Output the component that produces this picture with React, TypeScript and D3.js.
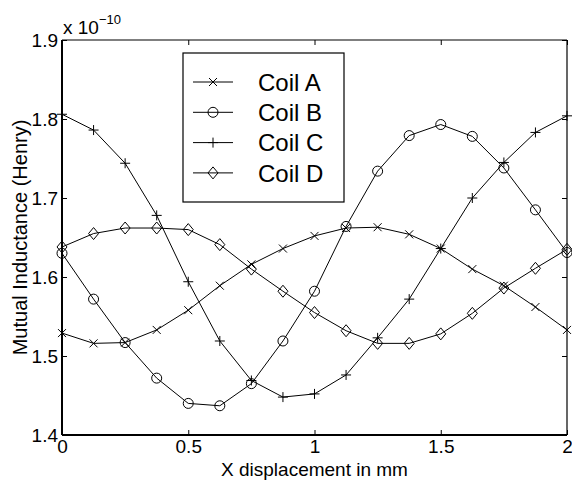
import React, { useEffect, useRef } from "react";
import * as d3 from "d3";

// x positions (mm)
const xValues = [0, 0.125, 0.25, 0.375, 0.5, 0.625, 0.75, 0.875, 1, 1.125, 1.25, 1.375, 1.5, 1.625, 1.75, 1.875, 2];

// mutual inductance, units of 1e-10 H
const coilA = [1.529, 1.516, 1.517, 1.533, 1.558, 1.589, 1.616, 1.636, 1.652, 1.662, 1.663, 1.654, 1.636, 1.61, 1.589, 1.562, 1.533];
const coilB = [1.63, 1.572, 1.517, 1.472, 1.44, 1.437, 1.465, 1.519, 1.582, 1.664, 1.734, 1.779, 1.793, 1.778, 1.738, 1.685, 1.631];
const coilC = [1.806, 1.786, 1.744, 1.678, 1.594, 1.519, 1.469, 1.448, 1.452, 1.476, 1.523, 1.572, 1.636, 1.7, 1.745, 1.783, 1.804];
const coilD = [1.638, 1.655, 1.662, 1.662, 1.66, 1.641, 1.61, 1.582, 1.555, 1.532, 1.516, 1.516, 1.528, 1.554, 1.586, 1.611, 1.635];

const seriesNames = ["Coil A", "Coil B", "Coil C", "Coil D"];
const seriesValues = [coilA, coilB, coilC, coilD];
const markerPaths = [
  "M-4,-4L4,4M-4,4L4,-4", // x
  "M-5,0A5,5 0 1,0 5,0A5,5 0 1,0 -5,0Z", // circle
  "M-5,0H5M0,-5V5", // plus
  "M0,-6L5,0L0,6L-5,0Z", // diamond
];

const xTicks = [0, 0.5, 1, 1.5, 2];
const yTicks = [1.4, 1.5, 1.6, 1.7, 1.8, 1.9];

const width = 572,
  height = 480,
  margin = { top: 40, right: 5, bottom: 45, left: 62 };

const font = "'Liberation Sans', Arial, Helvetica, sans-serif";

const App: React.FC = () => {
  const ref = useRef<SVGSVGElement | null>(null);

  useEffect(() => {
    const svg = d3.select(ref.current);
    svg.selectAll("*").remove();

    const x = d3
      .scaleLinear()
      .domain([0, 2])
      .range([margin.left, width - margin.right]);
    const y = d3
      .scaleLinear()
      .domain([1.4, 1.9])
      .range([height - margin.bottom, margin.top]);

    const x0 = x.range()[0],
      x1 = x.range()[1],
      y0 = y.range()[0],
      y1 = y.range()[1];

    // axes with inward ticks
    const styleAxis = (g) => {
      g.select(".domain").remove();
      g.selectAll(".tick line").attr("stroke", "#000");
      g.selectAll(".tick text")
        .attr("fill", "#000")
        .style("font-family", font)
        .style("font-size", "19px");
    };

    svg
      .append("g")
      .attr("transform", `translate(0,${y0})`)
      .call(d3.axisBottom(x).tickValues(xTicks).tickSize(-5).tickSizeOuter(0).tickPadding(5).tickFormat(d3.format("")))
      .call(styleAxis);
    svg
      .append("g")
      .attr("transform", `translate(0,${y1})`)
      .call(d3.axisTop(x).tickValues(xTicks).tickSize(-5).tickSizeOuter(0).tickFormat(() => ""))
      .call(styleAxis);
    svg
      .append("g")
      .attr("transform", `translate(${x0},0)`)
      .call(d3.axisLeft(y).tickValues(yTicks).tickSize(-5).tickSizeOuter(0).tickPadding(4).tickFormat(d3.format(".1f")))
      .call(styleAxis);
    svg
      .append("g")
      .attr("transform", `translate(${x1},0)`)
      .call(d3.axisRight(y).tickValues(yTicks).tickSize(-5).tickSizeOuter(0).tickFormat(() => ""))
      .call(styleAxis);

    // frame
    svg.append("line").attr("x1", x0).attr("x2", x1).attr("y1", y1).attr("y2", y1).attr("stroke", "#000").attr("stroke-width", 1.2);
    svg.append("line").attr("x1", x1).attr("x2", x1).attr("y1", y1).attr("y2", y0).attr("stroke", "#000").attr("stroke-width", 1.2);
    svg.append("line").attr("x1", x0).attr("x2", x1).attr("y1", y0).attr("y2", y0).attr("stroke", "#000").attr("stroke-width", 2);
    svg.append("line").attr("x1", x0).attr("x2", x0).attr("y1", y1).attr("y2", y0).attr("stroke", "#000").attr("stroke-width", 2);

    // series
    const line = d3
      .line<number>()
      .x((d, i) => x(xValues[i]))
      .y((d) => y(d));

    seriesValues.forEach((vals, s) => {
      svg
        .append("path")
        .datum(vals)
        .attr("fill", "none")
        .attr("stroke", "#000")
        .attr("stroke-width", 1)
        .attr("d", line);
      svg
        .append("g")
        .selectAll("path")
        .data(vals)
        .join("path")
        .attr("transform", (d, i) => `translate(${x(xValues[i])},${y(d)})`)
        .attr("d", markerPaths[s])
        .attr("fill", "none")
        .attr("stroke", "#000")
        .attr("stroke-width", 1);
    });

    // exponent label
    const exp = svg
      .append("text")
      .attr("x", 63)
      .attr("y", 34)
      .attr("fill", "#000")
      .style("font-family", font)
      .style("font-size", "19px");
    exp.append("tspan").text("x 10");
    exp.append("tspan").attr("dy", -10).style("font-size", "13px").text("\u221210");

    // axis labels
    svg
      .append("text")
      .attr("x", (x0 + x1) / 2)
      .attr("y", 476)
      .attr("text-anchor", "middle")
      .attr("fill", "#000")
      .style("font-family", font)
      .style("font-size", "19px")
      .text("X displacement in mm");
    svg
      .append("text")
      .attr("transform", `translate(27,${(y0 + y1) / 2}) rotate(-90)`)
      .attr("text-anchor", "middle")
      .attr("fill", "#000")
      .style("font-family", font)
      .style("font-size", "20px")
      .text("Mutual Inductance (Henry)");

    // legend
    const lg = svg.append("g").attr("transform", "translate(183,53)");
    lg.append("rect")
      .attr("width", 161)
      .attr("height", 149)
      .attr("fill", "#fff")
      .attr("stroke", "#000")
      .attr("stroke-width", 1.2);
    seriesNames.forEach((name, s) => {
      const ry = 29 + s * 30.3;
      lg.append("line").attr("x1", 10).attr("x2", 50).attr("y1", ry).attr("y2", ry).attr("stroke", "#000");
      lg.append("path")
        .attr("transform", `translate(30,${ry})`)
        .attr("d", markerPaths[s])
        .attr("fill", "none")
        .attr("stroke", "#000");
      lg.append("text")
        .attr("x", 75)
        .attr("y", ry)
        .attr("dy", "0.36em")
        .attr("fill", "#000")
        .style("font-family", font)
        .style("font-size", "24px")
        .text(name);
    });
  }, []);

  return (
    <svg
      ref={ref}
      width={width}
      height={height}
      style={{ position: "absolute", left: 0, top: 0, background: "#fff" }}
    ></svg>
  );
};

export default App;
